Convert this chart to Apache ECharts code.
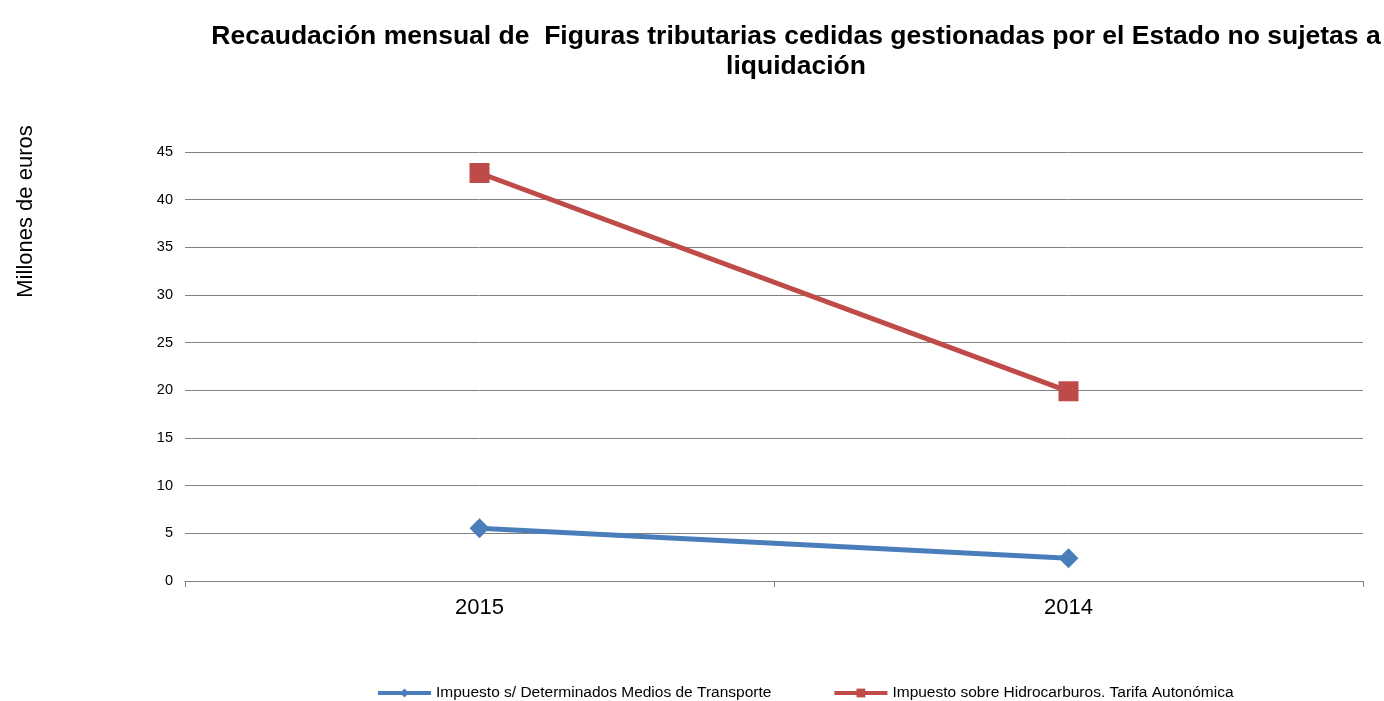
<!DOCTYPE html>
<html>
<head>
<meta charset="utf-8">
<script src="https://cdn.jsdelivr.net/npm/echarts@6/dist/echarts.min.js"></script>
<style>
  html, body { margin: 0; padding: 0; background: #fff; }
  #chart { width: 1384px; height: 701px; }
</style>
</head>
<body>
<div id="chart"></div>
<script>
const years = ['2015', '2014']
const transporte = [5.53, 2.38]
const hidrocarburos = [42.8, 19.9]
const yTicks = [0, 5, 10, 15, 20, 25, 30, 35, 40, 45]

const chart = echarts.init(document.getElementById('chart'))

const option = {
  animation: false,
  textStyle: { fontFamily: 'Liberation Sans, Arial, sans-serif' },
  title: {
    text: 'Recaudación mensual de  Figuras tributarias cedidas gestionadas por el Estado no sujetas a\nliquidación',
    left: 791,
    textAlign: 'center',
    top: 17,
    textStyle: { fontSize: 26.5, fontWeight: 'bold', color: '#000', lineHeight: 30 }
  },
  legend: {
    top: 680,
    left: 371,
    itemGap: 61,
    itemWidth: 53,
    itemHeight: 11,
    lineStyle: { width: 4 },
    textStyle: { fontSize: 15.5, color: '#000' },
    data: ['Impuesto s/ Determinados Medios de Transporte', 'Impuesto sobre Hidrocarburos. Tarifa Autonómica']
  },
  grid: { left: 185, right: 21, top: 152, bottom: 120, containLabel: false },
  xAxis: {
    type: 'category',
    data: years,
    boundaryGap: true,
    axisLine: { lineStyle: { color: '#808080', width: 1 } },
    axisTick: { show: true, length: 6, lineStyle: { color: '#808080' } },
    axisLabel: { fontSize: 22, color: '#000', margin: 16 }
  },
  yAxis: {
    type: 'value',
    min: yTicks[0],
    max: yTicks[yTicks.length - 1],
    interval: 5,
    name: 'Millones de euros',
    nameLocation: 'middle',
    nameRotate: 90,
    nameGap: 148,
    nameTextStyle: { fontSize: 22, color: '#000', padding: [0, 0, 0, 310] },
    axisLine: { show: false },
    axisTick: { show: false },
    axisLabel: { fontSize: 14.5, color: '#000', margin: 12 },
    splitLine: { lineStyle: { color: '#808080', width: 1 } }
  },
  series: [
    {
      name: 'Impuesto s/ Determinados Medios de Transporte',
      type: 'line',
      data: transporte,
      symbol: 'diamond',
      symbolSize: 20,
      lineStyle: { width: 5, color: '#4a7ebb' },
      itemStyle: { color: '#4a7ebb' }
    },
    {
      name: 'Impuesto sobre Hidrocarburos. Tarifa Autonómica',
      type: 'line',
      data: hidrocarburos,
      symbol: 'rect',
      symbolSize: 20,
      lineStyle: { width: 5, color: '#be4b48' },
      itemStyle: { color: '#be4b48' }
    }
  ]
}

chart.setOption(option)
</script>
</body>
</html>
